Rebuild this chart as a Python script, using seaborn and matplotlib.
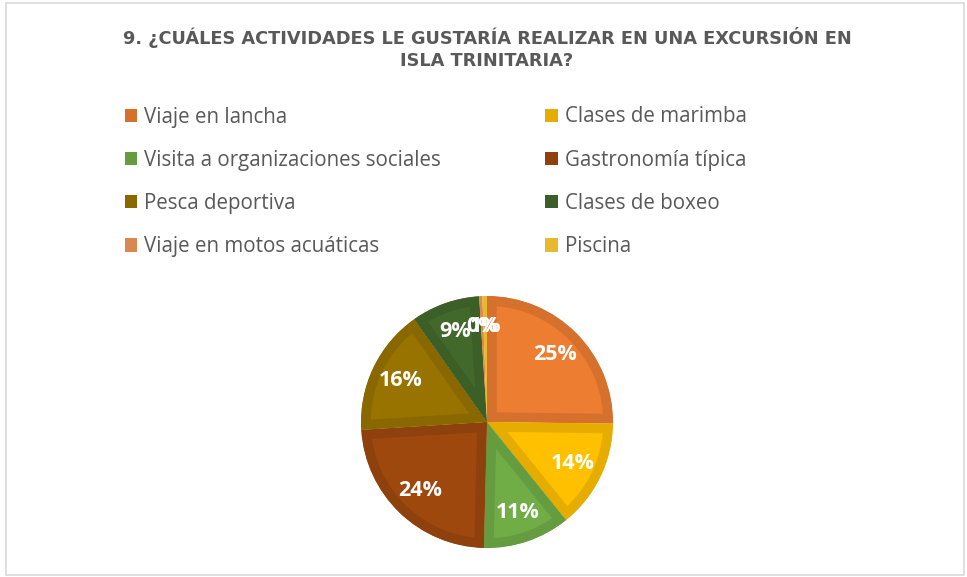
import seaborn as sns
import matplotlib.pyplot as plt
from matplotlib.patches import Patch, Rectangle
from matplotlib.colors import to_rgb

# data
actividades = ["Viaje en lancha", "Clases de marimba", "Visita a organizaciones sociales",
               "Gastronomía típica", "Pesca deportiva", "Clases de boxeo",
               "Viaje en motos acuáticas", "Piscina"]
porcentajes = [25.2, 14.0, 11.2, 23.6, 16.2, 8.8, 0.4, 0.6]
colores = ["#ED7D31", "#FFC000", "#70AD47", "#9E480E", "#997300", "#43682B", "#F1975A", "#FFCD33"]

sns.set_theme(style="white")
plt.rcParams['font.family'] = ['Open Sans', 'DejaVu Sans']

def oscurecer(c, f=0.9):
    r, g, b = to_rgb(c)
    return (r * f, g * f, b * f)

bordes = [oscurecer(c) for c in colores]

fig = plt.figure(figsize=(9.67, 5.77), dpi=100)
W, H = 967, 577

# light grey frame round the chart area
fig.patches.append(Rectangle((6 / W, 2 / H), 958 / W, 572 / H, transform=fig.transFigure,
                             fill=False, edgecolor="#D9D9D9", linewidth=1.2))

# title (DejaVu is wider, closer to the letter-spaced original)
titulo_kw = dict(ha="center", va="center", fontsize=12.8, fontweight="bold",
                 color="#595959", family="DejaVu Sans")
fig.text(487 / W, 1 - 37 / H, "9. ¿CUÁLES ACTIVIDADES LE GUSTARÍA REALIZAR EN UNA EXCURSIÓN EN", **titulo_kw)
fig.text(487 / W, 1 - 61 / H, "ISLA TRINITARIA?", **titulo_kw)

# pie
cx, cy, r = 487, 422, 126
ax = fig.add_axes([(cx - r) / W, (H - cy - r) / H, 2 * r / W, 2 * r / H])
wedges, textos, pcts = ax.pie(porcentajes, colors=colores, startangle=90, counterclock=False,
                              autopct="%.0f%%", pctdistance=0.76, radius=1,
                              textprops=dict(color="white", fontsize=15.5, fontweight="bold"))
# darker inner band on every slice (stroke clipped to the slice itself)
for w, b in zip(wedges, bordes):
    w.set_edgecolor(b)
    w.set_linewidth(14)
    w.set_joinstyle("miter")
    w.set_clip_on(True)
    w.set_clip_path(w)
ax.set_xlim(-1, 1)
ax.set_ylim(-1, 1)
ax.axis("off")

# legend, two columns filled row by row
orden = [0, 2, 4, 6, 1, 3, 5, 7]
handles = [Patch(facecolor=bordes[i], edgecolor="none") for i in orden]
etiquetas = [actividades[i] for i in orden]
fig.legend(handles, etiquetas, ncol=2, loc="upper left",
           bbox_to_anchor=(106 / W, 1 - 88 / H), frameon=False,
           fontsize=14.8, labelcolor="#595959", handlelength=0.62, handleheight=0.62,
           handletextpad=0.35, labelspacing=1.08, columnspacing=5.05)

fig.savefig("out.png", dpi=100)
